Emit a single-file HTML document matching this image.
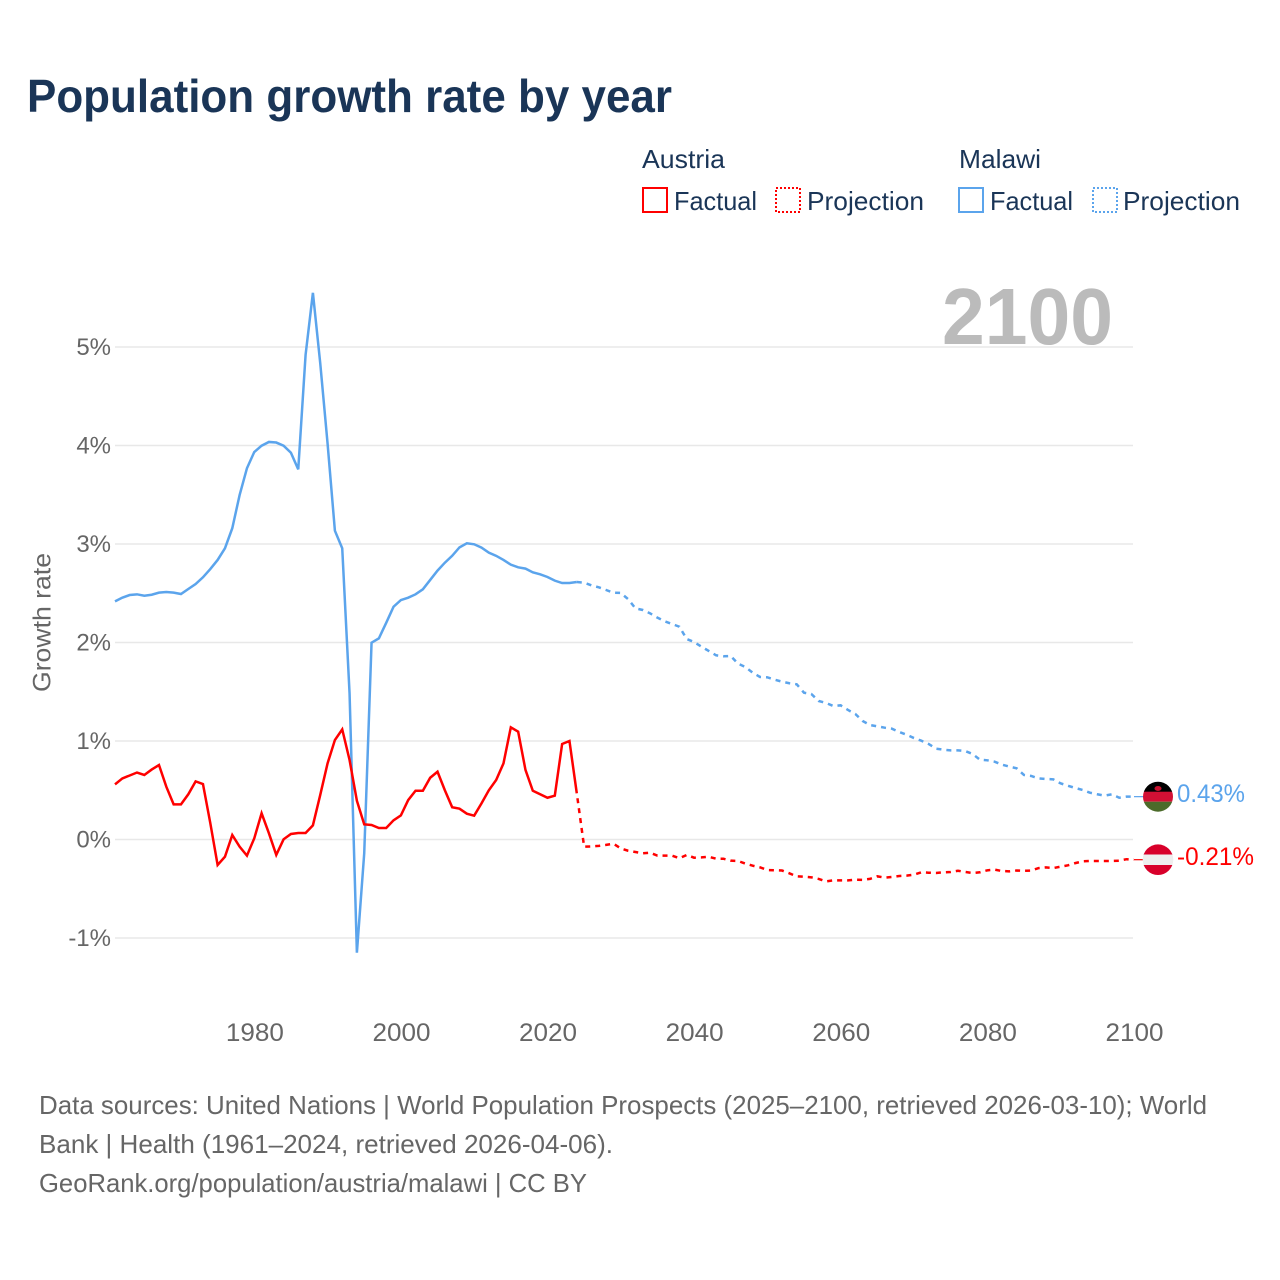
<!DOCTYPE html>
<html lang="en">
<head>
<meta charset="utf-8">
<title>Population growth rate by year</title>
<style>
html,body{margin:0;padding:0;background:#fff;width:1280px;height:1280px;overflow:hidden}
svg{display:block}
text{font-family:"Liberation Sans",sans-serif}
</style>
</head>
<body>
<svg id="chart" xmlns="http://www.w3.org/2000/svg" width="1280" height="1280" viewBox="0 0 1280 1280">
  <rect width="1280" height="1280" fill="#fff"/>
  <text x="27" y="112" font-size="46" font-weight="700" fill="#1a3557" textLength="645" lengthAdjust="spacingAndGlyphs">Population growth rate by year</text>

  <g>
    <text x="642" y="168" font-size="26" fill="#1a3557" textLength="83" lengthAdjust="spacingAndGlyphs">Austria</text>
    <rect x="643" y="188" width="24" height="24" fill="none" stroke="#ff0000" stroke-width="2" shape-rendering="crispEdges"/>
    <text x="674" y="210" font-size="26" fill="#1a3557" textLength="83" lengthAdjust="spacingAndGlyphs">Factual</text>
    <rect x="776" y="188" width="24" height="24" fill="none" stroke="#ff0000" stroke-width="2" stroke-dasharray="2 2" shape-rendering="crispEdges"/>
    <text x="807" y="210" font-size="26" fill="#1a3557" textLength="117" lengthAdjust="spacingAndGlyphs">Projection</text>
    <text x="959" y="168" font-size="26" fill="#1a3557" textLength="82" lengthAdjust="spacingAndGlyphs">Malawi</text>
    <rect x="959" y="188" width="24" height="24" fill="none" stroke="#5ba4ec" stroke-width="2" shape-rendering="crispEdges"/>
    <text x="990" y="210" font-size="26" fill="#1a3557" textLength="83" lengthAdjust="spacingAndGlyphs">Factual</text>
    <rect x="1093" y="188" width="24" height="24" fill="none" stroke="#5ba4ec" stroke-width="2" stroke-dasharray="2 2" shape-rendering="crispEdges"/>
    <text x="1123" y="210" font-size="26" fill="#1a3557" textLength="117" lengthAdjust="spacingAndGlyphs">Projection</text>
  </g>

  <g id="grid"></g>
  <g id="yticks"></g>
  <g id="xticks"></g>
  <text transform="translate(50.5,692) rotate(-90)" font-size="25" fill="#666" textLength="139" lengthAdjust="spacingAndGlyphs">Growth rate</text>
  <text x="942" y="344" font-size="80" font-weight="700" fill="#bbbbbb" textLength="171" lengthAdjust="spacingAndGlyphs">2100</text>
  <g id="series"></g>

  <g>
    <clipPath id="clip-mw"><circle cx="1158" cy="796.7" r="15"/></clipPath>
    <g clip-path="url(#clip-mw)">
      <rect x="1143" y="781" width="30" height="11" fill="#000"/>
      <rect x="1143" y="791.7" width="30" height="10" fill="#d21034"/>
      <rect x="1143" y="801.7" width="30" height="11" fill="#4c6b2a"/>
      <ellipse cx="1158" cy="788.5" rx="3.5" ry="2.5" fill="#c8102e"/>
    </g>
    <text x="1177" y="802" font-size="25" fill="#5ba4ec" textLength="68" lengthAdjust="spacingAndGlyphs">0.43%</text>
  </g>
  <g>
    <clipPath id="clip-at"><circle cx="1158" cy="859.7" r="15.3"/></clipPath>
    <g clip-path="url(#clip-at)">
      <rect x="1142" y="844" width="32" height="11" fill="#d8002a"/>
      <rect x="1142" y="854.5" width="32" height="10.5" fill="#eeeeee"/>
      <rect x="1142" y="865" width="32" height="11" fill="#d8002a"/>
    </g>
    <text x="1177" y="865" font-size="25" fill="#ff0000" textLength="77" lengthAdjust="spacingAndGlyphs">-0.21%</text>
  </g>

  <g>
    <text x="39" y="1114" font-size="26" fill="#666" textLength="1168" lengthAdjust="spacingAndGlyphs">Data sources: United Nations | World Population Prospects (2025–2100, retrieved 2026-03-10); World</text>
    <text x="39" y="1153" font-size="26" fill="#666" textLength="574" lengthAdjust="spacingAndGlyphs">Bank | Health (1961–2024, retrieved 2026-04-06).</text>
    <text x="39" y="1192" font-size="26" fill="#666" textLength="548" lengthAdjust="spacingAndGlyphs">GeoRank.org/population/austria/malawi | CC BY</text>
  </g>
</svg>
<script>
const factualStartYear = 1961;
const projectionStartYear = 2024;
const xTickYears = [1980, 2000, 2020, 2040, 2060, 2080, 2100];
const yTickValues = [-1, 0, 1, 2, 3, 4, 5];
const yTickLabels = ["-1%", "0%", "1%", "2%", "3%", "4%", "5%"];
const austriaFactual = [0.56,0.62,0.65,0.68,0.655,0.71,0.756,0.536,0.357,0.357,0.459,0.59,0.563,0.167,-0.259,-0.175,0.046,-0.073,-0.164,0.012,0.266,0.063,-0.157,0.002,0.056,0.066,0.066,0.144,0.452,0.773,1.01,1.118,0.807,0.394,0.154,0.147,0.117,0.117,0.195,0.245,0.40,0.495,0.495,0.627,0.688,0.50,0.327,0.313,0.262,0.242,0.367,0.50,0.604,0.773,1.139,1.095,0.706,0.495,0.459,0.424,0.445,0.97,1.0,0.469];
const austriaProjection = [0.469,-0.073,-0.07,-0.065,-0.055,-0.043,-0.09,-0.114,-0.127,-0.14,-0.134,-0.164,-0.164,-0.164,-0.19,-0.157,-0.185,-0.182,-0.175,-0.195,-0.195,-0.215,-0.218,-0.245,-0.266,-0.283,-0.31,-0.312,-0.315,-0.343,-0.374,-0.378,-0.384,-0.40,-0.425,-0.415,-0.415,-0.415,-0.408,-0.41,-0.40,-0.374,-0.387,-0.38,-0.37,-0.367,-0.357,-0.333,-0.337,-0.34,-0.333,-0.33,-0.317,-0.33,-0.34,-0.333,-0.313,-0.306,-0.32,-0.323,-0.315,-0.318,-0.315,-0.29,-0.283,-0.29,-0.276,-0.262,-0.24,-0.222,-0.218,-0.218,-0.218,-0.218,-0.215,-0.20,-0.205];
const malawiFactual = [2.418,2.455,2.482,2.489,2.475,2.485,2.506,2.513,2.506,2.492,2.543,2.594,2.662,2.746,2.838,2.956,3.16,3.497,3.769,3.934,3.998,4.036,4.03,3.998,3.927,3.758,4.92,5.55,4.835,4.02,3.135,2.956,1.484,-1.149,-0.14,1.998,2.042,2.2,2.363,2.431,2.455,2.489,2.54,2.635,2.73,2.81,2.88,2.966,3.007,2.997,2.963,2.912,2.88,2.838,2.79,2.763,2.75,2.712,2.692,2.665,2.628,2.604,2.604,2.614];
const malawiProjection = [2.614,2.607,2.58,2.56,2.533,2.506,2.503,2.44,2.347,2.33,2.296,2.252,2.215,2.188,2.16,2.035,2.005,1.958,1.914,1.87,1.86,1.863,1.785,1.751,1.693,1.65,1.646,1.622,1.602,1.586,1.576,1.49,1.477,1.406,1.386,1.355,1.362,1.315,1.274,1.203,1.162,1.149,1.135,1.125,1.091,1.064,1.03,1.003,0.97,0.922,0.912,0.905,0.905,0.898,0.868,0.81,0.804,0.79,0.76,0.74,0.723,0.655,0.645,0.62,0.614,0.611,0.57,0.546,0.523,0.503,0.475,0.459,0.445,0.459,0.424,0.435,0.435];

const SVG_NS = "http://www.w3.org/2000/svg";
const xScale = function (year) { return 115 + (year - 1961) * 7.33; };
const yScale = function (value) { return 839.5 - value * 98.5; };

function makeSvg(tag, attrs, parent) {
  const el = document.createElementNS(SVG_NS, tag);
  Object.keys(attrs).forEach(function (k) { el.setAttribute(k, attrs[k]); });
  parent.appendChild(el);
  return el;
}

const gridGroup = document.getElementById("grid");
const yTickGroup = document.getElementById("yticks");
const xTickGroup = document.getElementById("xticks");
const seriesGroup = document.getElementById("series");

yTickValues.forEach(function (v, i) {
  const line = makeSvg("line", { x1: 115, x2: 1133, y1: yScale(v), y2: yScale(v), stroke: "#e8e8e8", "stroke-width": 1.4 }, gridGroup);
  
  
  const label = makeSvg("text", { x: 111, y: yScale(v) + 8, "text-anchor": "end", "font-size": 24, fill: "#666" }, yTickGroup);
  
  
  label.textContent = yTickLabels[i];
});

xTickYears.forEach(function (year) {
  const label = makeSvg("text", { x: xScale(year) + 0.6, y: 1041, "text-anchor": "middle", "font-size": 25, fill: "#666", textLength: 58, lengthAdjust: "spacingAndGlyphs" }, xTickGroup);
  
  
  label.textContent = String(year);
});

function buildPath(values, startYear) {
  return values.map(function (v, i) {
    return (i ? "L" : "M") + xScale(startYear + i).toFixed(2) + " " + yScale(v).toFixed(2);
  }).join("");
}

const malawiFactualLine = makeSvg("path", { d: buildPath(malawiFactual, factualStartYear), fill: "none", stroke: "#5ba4ec", "stroke-width": 2.5 }, seriesGroup);



const malawiProjectionLine = makeSvg("path", { d: buildPath(malawiProjection, projectionStartYear), fill: "none", stroke: "#5ba4ec", "stroke-width": 2.5, "stroke-dasharray": "5 5" }, seriesGroup);



const austriaFactualLine = makeSvg("path", { d: buildPath(austriaFactual, factualStartYear), fill: "none", stroke: "#ff0000", "stroke-width": 2.5 }, seriesGroup);



const austriaProjectionLine = makeSvg("path", { d: buildPath(austriaProjection, projectionStartYear), fill: "none", stroke: "#ff0000", "stroke-width": 2.5, "stroke-dasharray": "5 5", "stroke-dashoffset": 5 }, seriesGroup);



const malawiLast = malawiProjection[malawiProjection.length - 1];
const malawiConnector = makeSvg("line", { x1: 1134, x2: 1144, y1: yScale(malawiLast), y2: yScale(malawiLast), stroke: "#5ba4ec", "stroke-width": 1.2 }, seriesGroup);



const austriaLast = austriaProjection[austriaProjection.length - 1];
const austriaConnector = makeSvg("line", { x1: 1134, x2: 1144, y1: yScale(austriaLast), y2: yScale(austriaLast), stroke: "#ff0000", "stroke-width": 1.2 }, seriesGroup);


</script>
</body>
</html>
